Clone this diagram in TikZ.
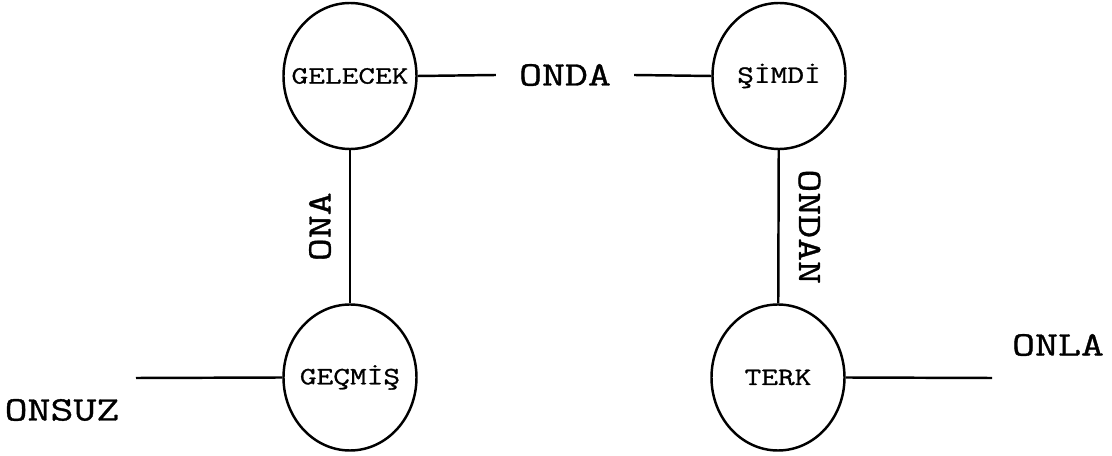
\documentclass[tikz,border=0pt]{standalone}
\usepackage{fontspec}
\setmonofont{Latin Modern Mono}[FakeStretch=1.3, FakeBold=1]
\tikzset{
	zaman/.style={draw, ellipse, line width=1.4pt, minimum width=2.66cm, minimum height=2.92cm, inner sep=0pt, font=\ttfamily\fontsize{14.2}{16}\selectfont,
		execute at begin node=\hbox to 0pt\bgroup\hss, execute at end node=\hss\egroup},
	hal/.style={font=\ttfamily\fontsize{19.5}{22}\selectfont},
	bag/.style={line width=1.4pt}
}
\usetikzlibrary{shapes.geometric}
\begin{document}
\begin{tikzpicture}
		\useasboundingbox (0,0) rectangle (22.24,9.12);
		\node[zaman] (gelecek) at (7.0,7.6) {GELECEK};
		\node[zaman] (simdi) at (15.58,7.6) {ŞİMDİ};
		\node[zaman] (gecmis) at (7.0,1.57) {GEÇMİŞ};
		\node[zaman] (terk) at (15.56,1.57) {TERK};
		\node[hal, inner xsep=0.46cm] (onda) at (11.3,7.62) {ONDA};
		\node[hal] (onsuz) at (1.24,0.92) {ONSUZ};
		\node[hal] (onla) at (21.16,2.22) {ONLA};
		\coordinate (solucu) at (2.72,1.56);
		\coordinate (sagucu) at (19.84,1.56);
		\draw[bag] (gelecek.east) -- (onda.west);
		\draw[bag] (onda.east) -- (simdi.west);
		\draw[bag] (gelecek) -- (gecmis) node[hal, midway, xshift=-0.6cm, rotate=90] (ona) {ONA};
		\draw[bag] (simdi) -- (terk) node[hal, midway, xshift=0.62cm, rotate=-90] (ondan) {ONDAN};
		\draw[bag] (gecmis.west) -- (solucu);
		\draw[bag] (terk.east) -- (sagucu);
		\end{tikzpicture}
\end{document}
